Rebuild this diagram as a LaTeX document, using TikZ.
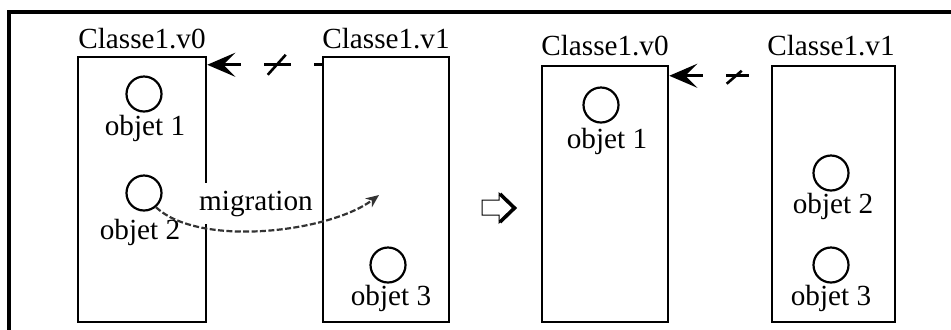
\documentclass[tikz,border=0pt]{standalone}
\usepackage{fontspec}
\setmainfont{Liberation Serif}
\usepackage{tikz}
\usetikzlibrary{arrows.meta}
\usetikzlibrary{calc}

\begin{document}
\begin{tikzpicture}[x=0.5pt,y=-0.5pt]
        \tikzset{>={Stealth[length=14pt,width=12pt,inset=6pt]}}
        \tikzstyle{every node}=[font=\fontsize{14.6pt}{17pt}\selectfont,inner sep=0pt]
        \tikzstyle{classe}=[draw=black,line width=1.25pt]
        \tikzstyle{objet}=[circle,draw=black,line width=1.1pt,minimum size=17.5pt]
        \tikzstyle{lbl}=[anchor=base]
        \tikzstyle{lien}=[->,line width=1.3pt]
        \tikzstyle{barre}=[line width=1.3pt]
        \tikzstyle{migr}=[-{Stealth[length=6.5pt,width=5.5pt,inset=2pt]},black!80,line width=1.1pt,dash pattern=on 3pt off 1.2pt]

        \useasboundingbox (0,0) rectangle (951,329);
        \clip (0,0) rectangle (951,329);
        \draw [line width=1.6pt] (9,340) -- (9,12) -- (960,12);

        % avant la migration
        \node [classe, minimum width=64pt, minimum height=132.5pt] (c0) at (142,189.5) {};
        \node [classe, minimum width=63pt, minimum height=132.5pt] (c1) at (386,189.5) {};
        \node [lbl] (lc0) at (142,48) {Classe1.v0};
        \node [lbl] (lc1) at (386,48) {Classe1.v1};

        \node [objet] (o1) at (144,94) {};
        \node [objet] (o2) at (144,193) {};
        \node [objet] (o3) at (388,265) {};
        \node [lbl] (to1) at (145,135) {objet 1};
        \node [lbl] (to2) at (140,239) {objet 2};
        \node [lbl] (to3) at (391,305) {objet 3};

        \draw [lien, dash pattern=on 4pt off 11.5pt on 13.5pt off 11.5pt on 20pt] ([yshift=-4.5pt]c1.north west) -- ([yshift=-4.5pt]c0.north east) coordinate[pos=0.393] (s0);
        \draw [barre] ([shift={(-4.5pt,-5pt)}]s0) -- ([shift={(4.5pt,5pt)}]s0);

        \node [lbl, fill=white, inner sep=4pt] (mig) at (256,210) {migration};
        \coordinate (mend) at (379,195);
        \draw [migr] (o2.-50) .. controls (200,248) and (330,232) .. (mend);

        % fleche creuse
        \draw [line width=0.5pt] (482,200) -- (499,200) -- (499,193) -- (514,208) -- (499,223) -- (499,215) -- (482,215) -- cycle;
        \draw [line width=1.8pt] (500,194) -- (514.5,208) -- (500,222);

        % apres la migration
        \node [classe, minimum width=63pt, minimum height=128pt] (d0) at (605,194) {};
        \node [classe, minimum width=61.5pt, minimum height=128pt] (d1) at (833.5,194) {};
        \node [lbl] (ld0) at (605,55) {Classe1.v0};
        \node [lbl] (ld1) at (831,55) {Classe1.v1};

        \node [objet] (p1) at (601,105) {};
        \node [objet] (p2) at (831,173) {};
        \node [objet] (p3) at (831,265) {};
        \node [lbl] (tp1) at (607,148) {objet 1};
        \node [lbl] (tp2) at (833,213) {objet 2};
        \node [lbl] (tp3) at (831,305) {objet 3};

        \draw [lien, dash pattern=on 0pt off 11pt on 11.5pt off 11.5pt on 20pt] ([yshift=-5.5pt]d1.north west) -- ([yshift=-5.5pt]d0.north east) coordinate[pos=0.36] (s1);
        \draw [barre] ([shift={(-3.75pt,-4pt)}]s1) -- ([shift={(3.75pt,2.5pt)}]s1);
    \end{tikzpicture}
\end{document}
